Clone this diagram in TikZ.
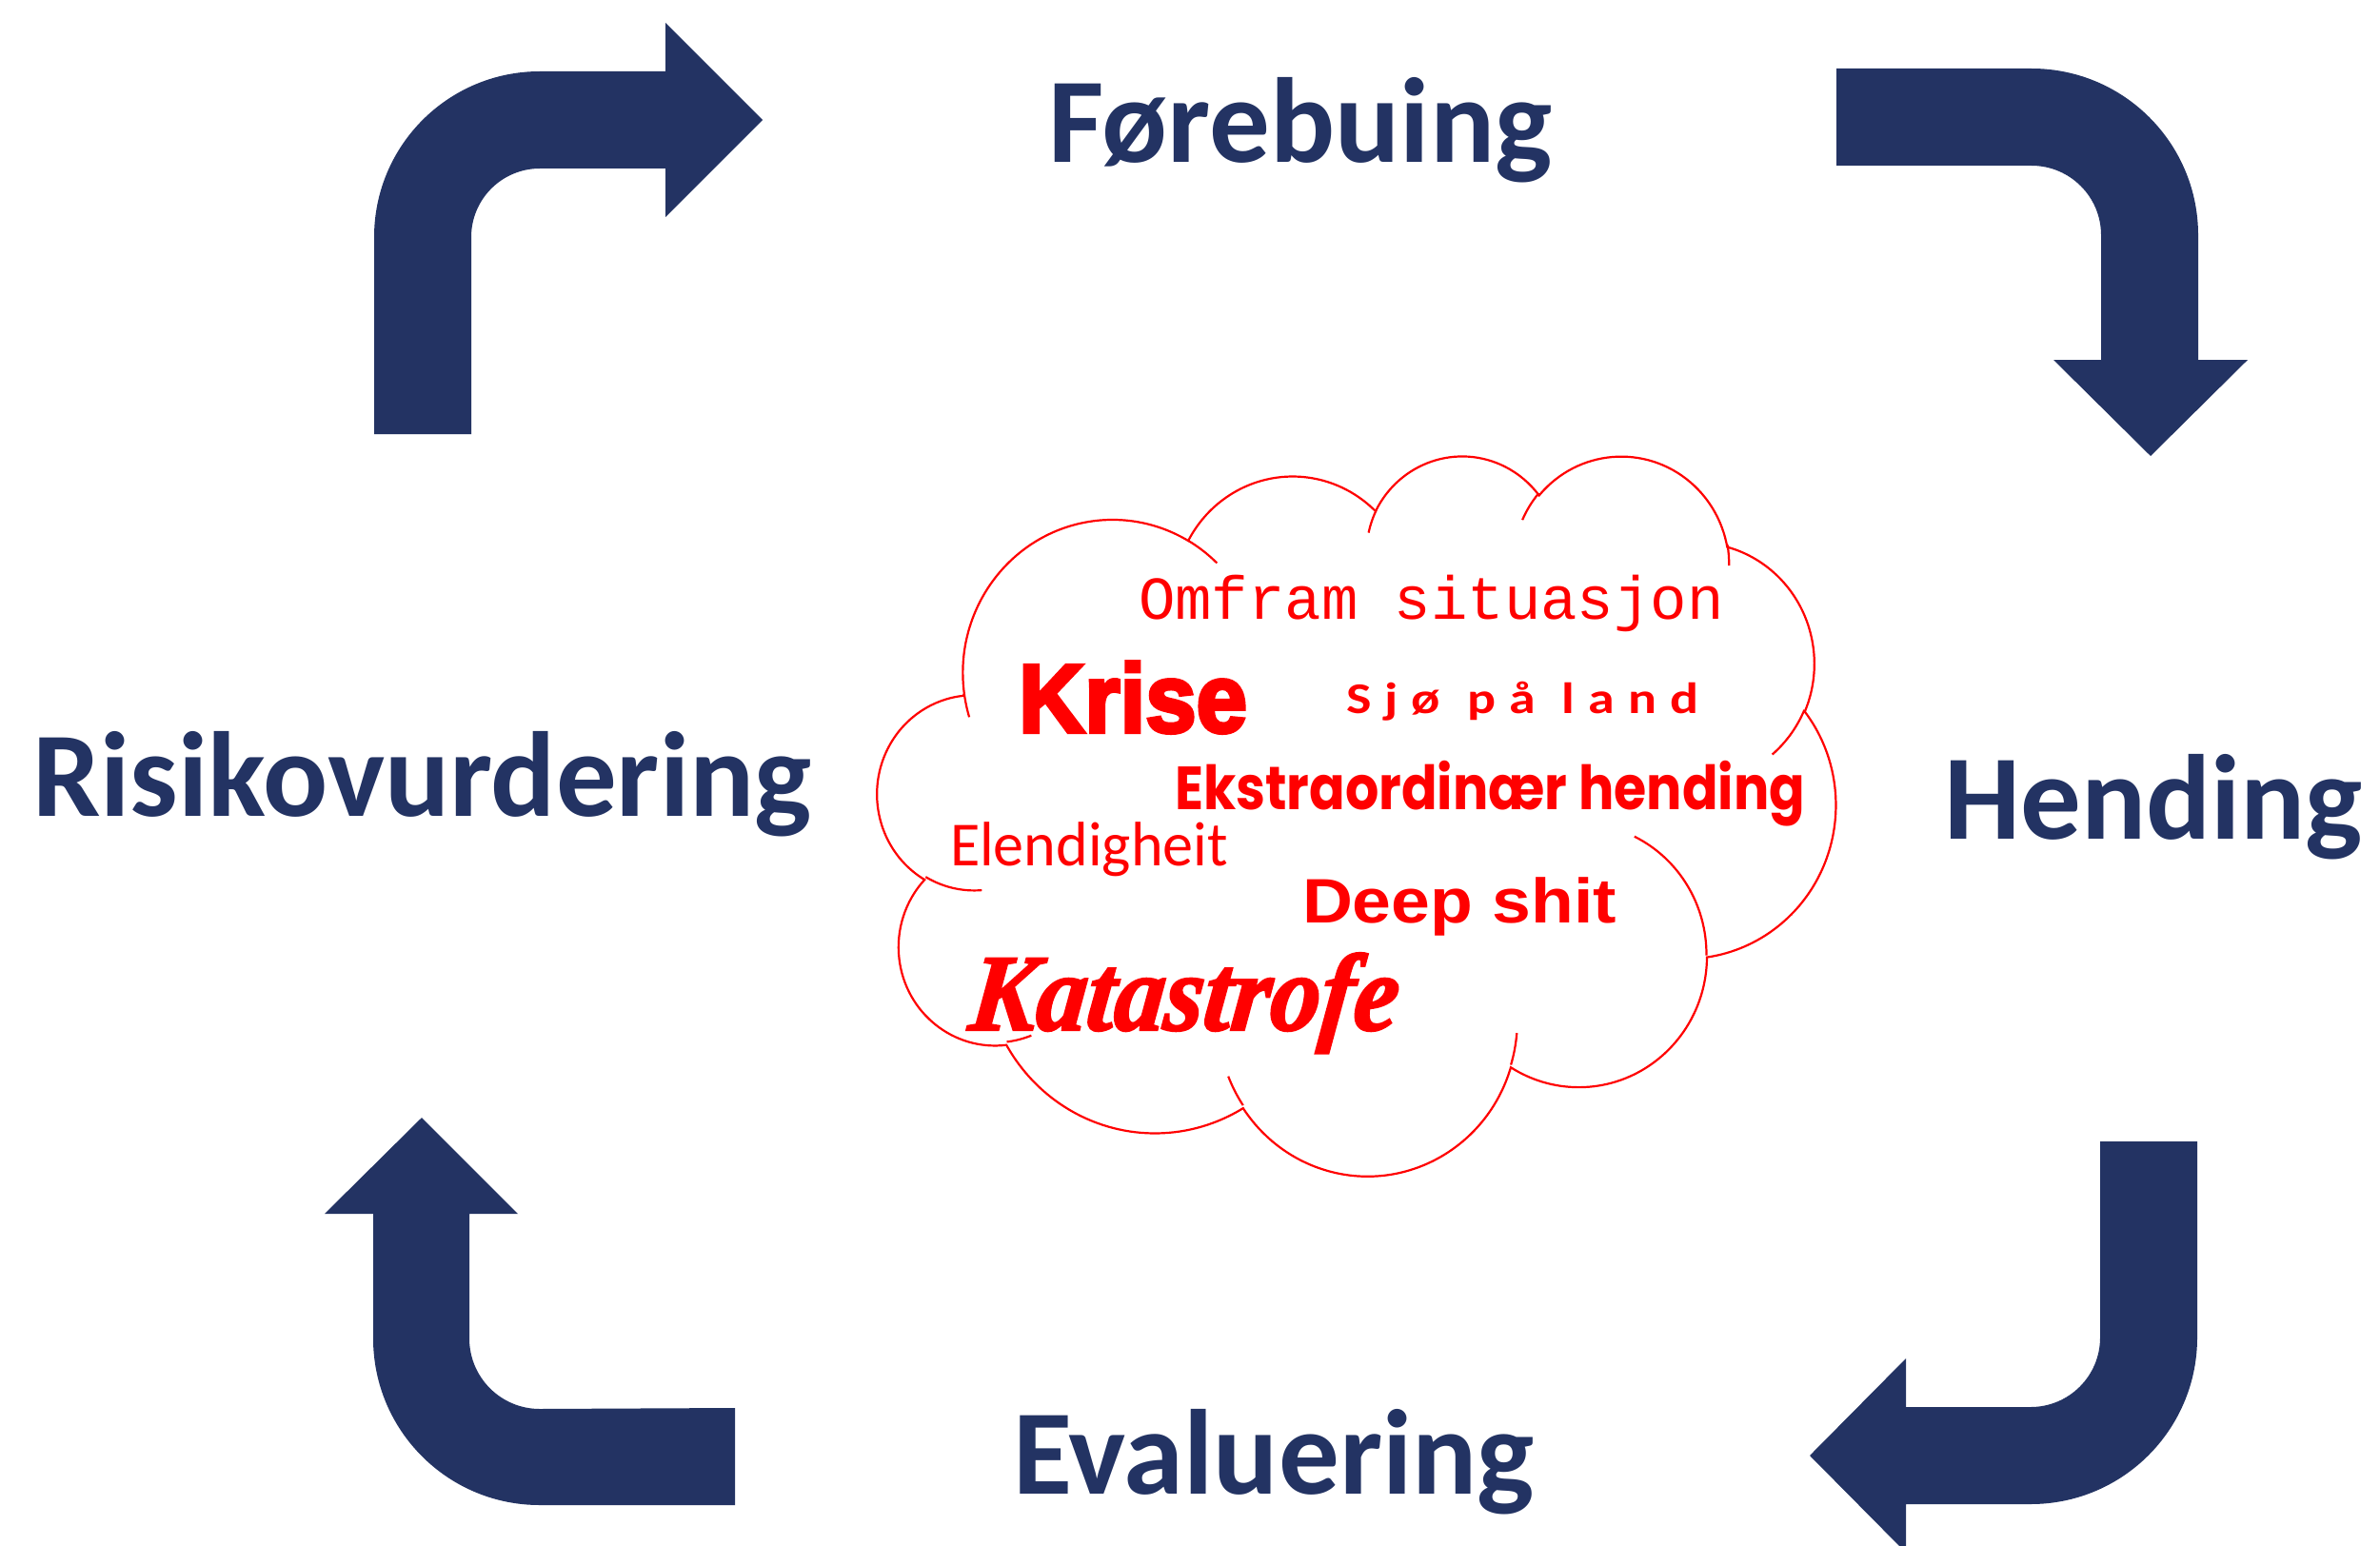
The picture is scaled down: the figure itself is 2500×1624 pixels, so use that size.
\documentclass[tikz,border=0pt]{standalone}
\usepackage{graphicx}
\usepackage{fontspec}
\setmainfont{Carlito}
\newfontfamily\labfont{Carlito}
\newfontfamily\monofnt{Liberation Mono}
\newfontfamily\krisefnt{Liberation Sans}[BoldFeatures={FakeBold=4}]
\newfontfamily\deepfnt{Liberation Sans}
\newfontfamily\sjofnt{Carlito}[LetterSpace=25]
\newfontfamily\popfnt{Poppins}
\newfontfamily\katfnt{Liberation Serif}[BoldItalicFeatures={FakeSlant=0.12,FakeBold=2}]
\definecolor{navy}{RGB}{35,51,99}
\definecolor{cloudred}{RGB}{255,0,0}
% cloud box (pixels)
\def\cldx{922}\def\cldy{477}\def\cldw{1006}\def\cldh{756}
\newcommand\cldmove[2]{%
  \pgfmathsetmacro\cldPx{\cldx+#1*\cldsx}%
  \pgfmathsetmacro\cldPy{0-(\cldy+#2*\cldsy)}%
  \pgfpathmoveto{\pgfpoint{\cldPx pt}{\cldPy pt}}}
\newcommand\cldarc[4]{%
  \pgfmathsetmacro\cldA{atan2(#1*sin(#3),#2*cos(#3))}%
  \pgfmathsetmacro\cldB{atan2(#1*sin(#3+#4),#2*cos(#3+#4))}%
  \pgfmathsetmacro\cldD{mod((\cldB)-(\cldA)+720,360)}%
  \pgfmathsetmacro\cldS{0-(\cldA)}%
  \pgfmathsetmacro\cldE{0-(\cldA)-(\cldD)}%
  \pgfmathsetmacro\cldRx{#1*\cldsx}%
  \pgfmathsetmacro\cldRy{#2*\cldsy}%
  \pgfpatharc{\cldS}{\cldE}{\cldRx pt and \cldRy pt}}
\tikzset{
  blockarrow/.style={fill=navy, draw=none},
  stage/.style={anchor=base west, inner sep=0pt, outer sep=0pt, text=navy,
    font=\labfont\bfseries\fontsize{127}{127}\selectfont},
  word/.style={anchor=base west, inner sep=0pt, outer sep=0pt, text=cloudred},
}
\begin{document}
\begin{tikzpicture}[x=1pt,y=-1pt]
\fill[white] (0,0) rectangle (2500,1624);
\useasboundingbox (0,0) rectangle (2500,1624);
% ---- bent block arrows ----
\fill[blockarrow] (393,456) -- (393,249) arc[start angle=180,end angle=90,radius=174pt]
  -- (699,75) -- (699,24) -- (801,126) -- (699,228) -- (699,177) -- (567,177)
  arc[start angle=90,end angle=180,radius=72pt] -- (495,456) -- cycle;
\fill[blockarrow] (1929,72) -- (2134,72) arc[start angle=90,end angle=0,radius=175pt]
  -- (2309,378) -- (2361,378) -- (2259,479) -- (2157,378) -- (2207,378) -- (2207,247)
  arc[start angle=0,end angle=90,radius=73pt] -- (1929,174) -- cycle;
\fill[blockarrow] (2206,1199) -- (2308,1199) -- (2308,1405) arc[start angle=0,end angle=-90,radius=175pt]
  -- (2002,1580) -- (2002,1631) -- (1901,1529) -- (2002,1427) -- (2002,1478) -- (2133,1478)
  arc[start angle=-90,end angle=0,radius=73pt] -- cycle;
\fill[blockarrow] (772,1581) -- (567,1581) arc[start angle=-90,end angle=-180,radius=175pt]
  -- (392,1275) -- (341,1275) -- (443,1174) -- (544,1275) -- (493,1275) -- (493,1406)
  arc[start angle=180,end angle=270,radius=74pt] -- (772,1479) -- cycle;
% ---- stage labels ----
\node[stage] (forebuing) at (1101,171) {Førebuing};
\node[stage] (risiko) at (34,857) {Risikovurdering};
\node[stage] (hending) at (2042,881) {Hending};
\node[stage] (evaluering) at (1064,1569) {Evaluering};
% ---- cloud ----
\pgfmathsetmacro\cldsx{\cldw/43.2}
\pgfmathsetmacro\cldsy{\cldh/43.2}
\begin{pgfscope}
\pgfsetcolor{cloudred}
\pgfsetlinewidth{2.2pt}
\cldmove{3.900}{14.370}
\cldarc{6.753}{9.190}{-190.48748}{123.78053}
\cldarc{5.333}{7.267}{-144.10238}{89.94523}
\cldarc{4.365}{5.945}{-145.80792}{99.72302}
\cldarc{4.857}{6.595}{-130.98607}{117.24173}
\cldarc{5.333}{7.273}{-78.70888}{109.02692}
\cldarc{6.775}{9.220}{-46.26725}{130.269}
\cldarc{5.785}{7.867}{0.62502}{114.03333}
\cldarc{6.752}{9.215}{22.4516}{115.17255}
\cldarc{7.720}{10.543}{66.24263}{75.71102}
\cldarc{4.360}{5.918}{-274.94208}{146.73557}
\cldarc{4.345}{5.945}{-246.8285}{152.51885}
\pgfpathclose
\cldmove{4.693}{26.177}\cldarc{4.345}{5.945}{86.742}{26.4295}
\cldmove{6.928}{34.899}\cldarc{4.360}{5.918}{73.61047}{11.44747}
\cldmove{16.478}{39.090}\cldarc{6.752}{9.215}{137.62415}{14.0811}
\cldmove{28.827}{34.751}\cldarc{6.752}{9.215}{6.45327}{15.99835}
\cldmove{34.129}{22.954}\cldarc{5.785}{7.867}{-70.29235}{70.91737}
\cldmove{41.798}{15.354}\cldarc{5.333}{7.273}{30.31803}{27.7515}
\cldmove{38.324}{5.426}\cldarc{4.857}{6.595}{-13.74433}{14.8589}
\cldmove{29.078}{3.952}\cldarc{4.857}{6.595}{-149.18145}{18.19537}
\cldmove{22.141}{4.720}\cldarc{4.365}{5.945}{-163.49427}{17.68635}
\cldmove{14.000}{5.192}\cldarc{6.753}{9.190}{-66.70695}{12.31935}
\cldmove{4.127}{15.789}\cldarc{6.753}{9.190}{157.65435}{11.85817}
\pgfusepath{stroke}
\end{pgfscope}
% ---- words in the cloud ----
\node[word, font=\monofnt\fontsize{64}{64}\selectfont] (omfram) at (1196,650) {Omfram situasjon};
\node[word] (krise) at (1070,769) {\resizebox{240pt}{\height}{\krisefnt\bfseries\fontsize{102}{102}\selectfont Krise}};
\node[word] (sjo) at (1414,749) {\resizebox{370pt}{\height}{\sjofnt\bfseries\fontsize{46}{46}\selectfont Sjø\hspace{0.5em}på\hspace{0.5em}land}};
\node[word] (ekstra) at (1234,850) {\resizebox{662pt}{\height}{\popfnt\bfseries\fontsize{64}{64}\selectfont Ekstraordinær hending}};
\node[word] (elend) at (998,909) {\resizebox{292pt}{\height}{\fontsize{66}{66}\selectfont Elendigheit}};
\node[word] (deep) at (1368,969) {\resizebox{330pt}{\height}{\deepfnt\bfseries\fontsize{66}{66}\selectfont Deep shit}};
\node[word] (kat) at (1016,1082) {\resizebox{450pt}{\height}{\katfnt\bfseries\itshape\fontsize{115}{115}\selectfont Katastrofe}};
\end{tikzpicture}
\end{document}
